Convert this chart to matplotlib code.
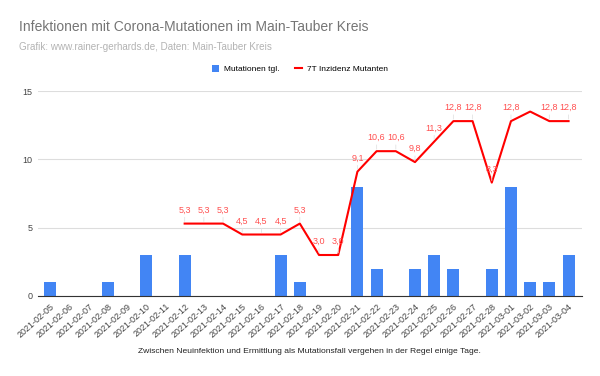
import matplotlib.pyplot as plt
import numpy as np

plt.rcParams["font.family"] = ["Liberation Sans Narrow", "Liberation Sans", "DejaVu Sans"]

dates = ["2021-02-05", "2021-02-06", "2021-02-07", "2021-02-08", "2021-02-09",
         "2021-02-10", "2021-02-11", "2021-02-12", "2021-02-13", "2021-02-14",
         "2021-02-15", "2021-02-16", "2021-02-17", "2021-02-18", "2021-02-19",
         "2021-02-20", "2021-02-21", "2021-02-22", "2021-02-23", "2021-02-24",
         "2021-02-25", "2021-02-26", "2021-02-27", "2021-02-28", "2021-03-01",
         "2021-03-02", "2021-03-03", "2021-03-04"]
mutationen = [1, 0, 0, 1, 0, 3, 0, 3, 0, 0, 0, 0, 3, 1, 0, 0, 8, 2, 0, 2,
              3, 2, 0, 2, 8, 1, 1, 3]
inzidenz = [None, None, None, None, None, None, None, 5.3, 5.3, 5.3, 4.5, 4.5,
            4.5, 5.3, 3.0, 3.0, 9.1, 10.6, 10.6, 9.8, 11.3, 12.8, 12.8, 8.3,
            12.8, 13.5, 12.8, 12.8]
# Werte ohne Beschriftung im Original
ohne_label = ["2021-03-02"]

fig = plt.figure(figsize=(6, 3.76), dpi=100)
ax = fig.add_axes([0.063, 0.2128, 0.907, 0.545])

x = np.arange(len(dates))
ax.bar(x, mutationen, width=0.62, color="#4285f4", zorder=2,
       label="Mutationen tgl.")
y = np.array([np.nan if v is None else v for v in inzidenz])
ax.plot(x, y, color="#ff0000", lw=1.5, zorder=3, label="7T Inzidenz Mutanten")

for i, v in enumerate(inzidenz):
    if v is None or dates[i] in ohne_label:
        continue
    ax.annotate(f"{v:.1f}".replace(".", ","), (i, v), xytext=(0, 6.5),
                textcoords="offset points", ha="center", va="bottom",
                fontsize=6.5, color="#ff5050", zorder=4,
                arrowprops=dict(arrowstyle="-", color="#e3e3e3", lw=0.6,
                                shrinkA=0, shrinkB=1.5))

ax.set_ylim(0, 15)
ax.set_xlim(-0.65, len(dates) - 0.3)
ax.set_yticks([0, 5, 10, 15])
ax.set_xticks(x)
ax.set_xticklabels(dates, rotation=42, ha="right", rotation_mode="anchor",
                   fontsize=6.5, color="#444444")
ax.tick_params(axis="y", labelsize=6.5, colors="#444444", length=0, pad=4)
ax.tick_params(axis="x", length=0, pad=4)
ax.grid(axis="y", color="#dddddd", lw=0.8, zorder=0)
for s in ["top", "right", "left"]:
    ax.spines[s].set_visible(False)
ax.spines["bottom"].set_color("#333333")
ax.spines["bottom"].set_linewidth(0.8)

fig.text(0.032, 0.928, "Infektionen mit Corona-Mutationen im Main-Tauber Kreis",
         fontsize=10, color="#757575", va="center")
fig.text(0.032, 0.875, "Grafik: www.rainer-gerhards.de, Daten: Main-Tauber Kreis",
         fontsize=7.1, color="#b3b3b3", va="center")
handles, labels = ax.get_legend_handles_labels()
fig.legend(handles[::-1], labels[::-1], loc="center",
           bbox_to_anchor=(0.5, 0.8165), ncol=2, frameon=False,
           fontsize=6.0, handlelength=0.9, handleheight=0.9, handletextpad=0.6,
           columnspacing=1.8)
fig.text(0.516, 0.064,
         "Zwischen Neuinfektion und Ermittlung als Mutationsfall vergehen in der Regel einige Tage.",
         fontsize=6.1, color="#222222", ha="center", va="center")

fig.savefig("out.png", dpi=100)
